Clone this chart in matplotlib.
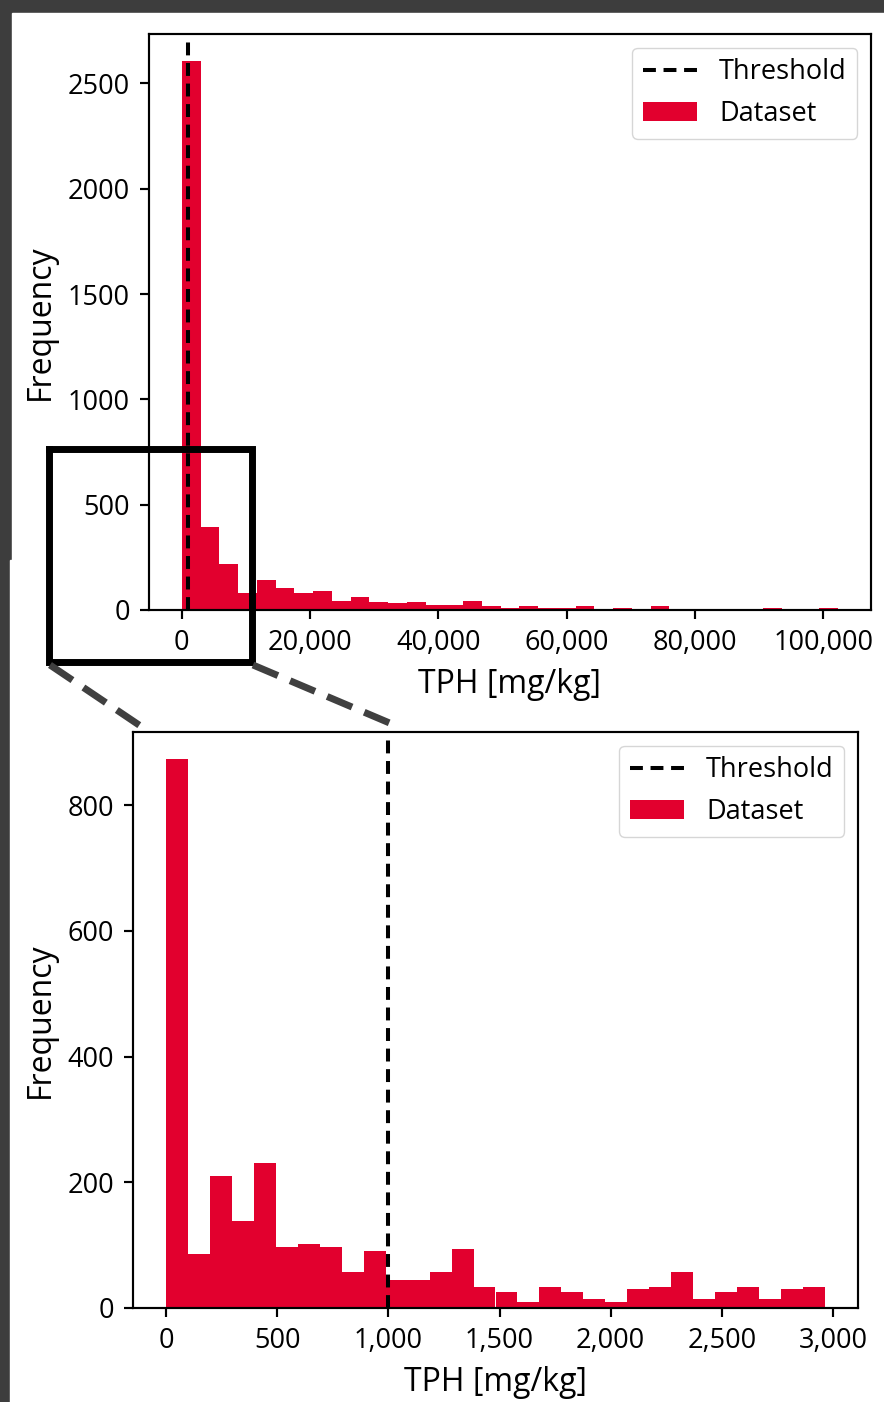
import numpy as np
import matplotlib.pyplot as plt
from matplotlib.lines import Line2D
from matplotlib.patches import Rectangle
from matplotlib.ticker import FuncFormatter, MultipleLocator

# counts per bin
full_counts = [2604, 394, 216, 83, 143, 105, 83, 90, 44, 60,
               38, 32, 40, 25, 25, 44, 17, 10, 17, 10,
               10, 17, 5, 10, 5, 19, 0, 0, 0, 0,
               0, 8, 0, 0, 8]
full_lo, full_hi = 0, 102300

zoom_counts = [873, 86, 210, 138, 230, 97, 102, 97, 57, 91,
               44, 44, 57, 94, 34, 25, 10, 34, 25, 14,
               10, 30, 34, 57, 14, 25, 34, 14, 30, 34]
zoom_lo, zoom_hi = 0, 2964

threshold = 1000
red = '#e2002e'
s = 1.95

plt.rcParams['font.family'] = ['Open Sans', 'DejaVu Sans']
plt.rcParams['font.size'] = 10 * s
plt.rcParams['axes.linewidth'] = 0.8 * s
plt.rcParams['xtick.major.size'] = 3.5 * s
plt.rcParams['ytick.major.size'] = 3.5 * s
plt.rcParams['xtick.major.width'] = 0.8 * s
plt.rcParams['ytick.major.width'] = 0.8 * s
plt.rcParams['xtick.major.pad'] = 3.5 * s
plt.rcParams['ytick.major.pad'] = 3.5 * s
plt.rcParams['axes.labelpad'] = 4 * s

W, H = 884, 1402
fig = plt.figure(figsize=(W / 100, H / 100), dpi=100, facecolor='#3d3d3d')


def fx(x):
    return x / W


def fy(y):
    return 1 - y / H


def box(x0, y0, x1, y1):
    return [fx(x0), fy(y1), (x1 - x0) / W, (y1 - y0) / H]


# white page on the dark background
fig.add_artist(Rectangle((fx(12), fy(562)), 1, (562 - 13) / H,
                         transform=fig.transFigure, color='white', zorder=-5))
fig.add_artist(Rectangle((fx(10), 0), 1, (H - 560) / H,
                         transform=fig.transFigure, color='white', zorder=-5))

comma = FuncFormatter(lambda v, p: f'{v:,.0f}')


def draw(ax, counts, lo, hi, ystep, xstep):
    edges = np.linspace(lo, hi, len(counts) + 1)
    ax.axvline(threshold, color='black', lw=2.9, dashes=(3.2, 1.9), label='Threshold')
    ax.hist(edges[:-1], bins=edges, weights=counts, color=red, label='Dataset')
    ax.set_xlabel('TPH [mg/kg]', fontsize=23)
    ax.set_ylabel('Frequency', fontsize=23)
    ax.xaxis.set_major_locator(MultipleLocator(xstep))
    ax.yaxis.set_major_locator(MultipleLocator(ystep))
    ax.xaxis.set_major_formatter(comma)
    ax.legend(loc='upper right')


ax1 = fig.add_axes(box(149, 34, 871, 610))
draw(ax1, full_counts, full_lo, full_hi, 500, 20000)

ax2 = fig.add_axes(box(133, 732, 858, 1308))
draw(ax2, zoom_counts, zoom_lo, zoom_hi, 200, 500)

# zoom box and connectors
bx0, by0, bx1, by1 = 48.5, 448.5, 251.5, 662
fig.add_artist(Line2D([fx(bx0), fx(bx1), fx(bx1), fx(bx0), fx(bx0)],
                      [fy(by0), fy(by0), fy(by1), fy(by1), fy(by0)],
                      transform=fig.transFigure, color='black', lw=5,
                      solid_joinstyle='miter'))
for (x0, y0), (x1, y1) in [((50, 665), (142, 727)), ((253, 665), (399, 727))]:
    fig.add_artist(Line2D([fx(x0), fx(x1)], [fy(y0), fy(y1)],
                          transform=fig.transFigure, color='#404040', lw=5,
                          dashes=(3.9, 1.9), solid_capstyle='butt',
                          dash_capstyle='butt'))

fig.savefig('out.png', dpi=100, facecolor=fig.get_facecolor())
